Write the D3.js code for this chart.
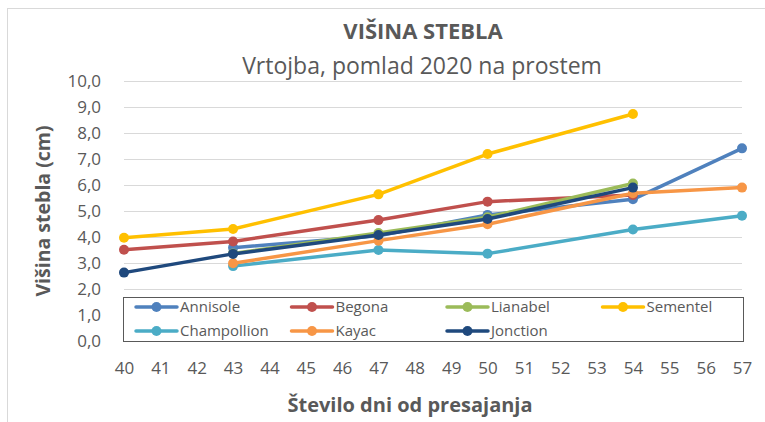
<!DOCTYPE html>
<html>
<head>
<meta charset="utf-8">
<script src="https://cdn.jsdelivr.net/npm/d3@7"></script>
<style>
  body { margin: 0; background: #fff; }
  text { font-family: "Open Sans", "Noto Sans", sans-serif; fill: #595959; }
</style>
</head>
<body>
<div id="chart"></div>
<script>
// days after transplanting
const days = [40, 43, 47, 50, 54, 57];

// stem height (cm), null = not measured
const annisole    = [null, 3.59, 4.05, 4.85, 5.45, 7.41];
const begona      = [3.51, 3.83, 4.65, 5.36, 5.62, null];
const lianabel    = [null, 3.37, 4.15, 4.76, 6.06, null];
const sementel    = [3.97, 4.31, 5.64, 7.19, 8.73, null];
const champollion = [null, 2.88, 3.50, 3.36, 4.29, 4.82];
const kayac       = [null, 2.99, 3.86, 4.49, 5.68, 5.90];
const jonction    = [2.63, 3.35, 4.08, 4.69, 5.90, null];

const seriesNames = ['Annisole', 'Begona', 'Lianabel', 'Sementel', 'Champollion', 'Kayac', 'Jonction'];
const seriesValues = [annisole, begona, lianabel, sementel, champollion, kayac, jonction];
const colors = ['#4f81bd', '#c0504d', '#9bbb59', '#ffc000', '#4bacc6', '#f79646', '#1f497d'];

const yTicks = [0, 1, 2, 3, 4, 5, 6, 7, 8, 9, 10];
const xTicks = d3.range(40, 58);

const width = 765, height = 422;
const margin = { top: 81, right: 23, bottom: 81, left: 124 };

const svg = d3.select('#chart').append('svg')
  .attr('width', width)
  .attr('height', height);

// chart frame
svg.append('rect')
  .attr('x', 7.5).attr('y', 8.5)
  .attr('width', width).attr('height', height)
  .attr('fill', 'none')
  .attr('stroke', '#d9d9d9');

const x = d3.scaleLinear().domain([40, 57]).range([margin.left, width - margin.right]);
const y = d3.scaleLinear().domain([0, 10]).range([height - margin.bottom, margin.top]);

// gridlines
svg.append('g')
  .selectAll('line')
  .data(yTicks)
  .join('line')
  .attr('x1', x(40)).attr('x2', x(57))
  .attr('y1', d => Math.round(y(d)) + 0.5)
  .attr('y2', d => Math.round(y(d)) + 0.5)
  .attr('stroke', '#d9d9d9')
  .attr('stroke-width', 1);

// y axis labels
const yAxis = svg.append('g')
  .attr('transform', `translate(${x(40) - 20},0)`)
  .call(d3.axisLeft(y).tickValues(yTicks).tickSize(0).tickFormat(d => d3.format('.1f')(d).replace('.', ',')));
yAxis.select('.domain').remove();
yAxis.selectAll('text').attr('font-size', 17).attr('fill', '#595959').attr('font-family', '"Open Sans", sans-serif');

// x axis labels
const xAxis = svg.append('g')
  .attr('transform', `translate(0,${y(0) + 18})`)
  .call(d3.axisBottom(x).tickValues(xTicks).tickSize(0).tickFormat(d3.format('d')));
xAxis.select('.domain').remove();
xAxis.selectAll('text').attr('font-size', 17).attr('fill', '#595959').attr('font-family', '"Open Sans", sans-serif');

// series
const line = d3.line()
  .defined(d => d.v != null)
  .x(d => x(d.day))
  .y(d => y(d.v));

seriesValues.forEach((vals, i) => {
  const pts = days.map((day, j) => ({ day, v: vals[j] }));
  const g = svg.append('g');
  g.append('path')
    .datum(pts)
    .attr('d', line)
    .attr('fill', 'none')
    .attr('stroke', colors[i])
    .attr('stroke-width', 3.5)
    .attr('stroke-linejoin', 'round')
    .attr('stroke-linecap', 'round');
  g.selectAll('circle')
    .data(pts.filter(d => d.v != null))
    .join('circle')
    .attr('cx', d => x(d.day))
    .attr('cy', d => y(d.v))
    .attr('r', 5)
    .attr('fill', colors[i]);
});

// legend
const legend = svg.append('g');
legend.append('rect')
  .attr('x', 123.5).attr('y', 297.5)
  .attr('width', 620).attr('height', 44)
  .attr('fill', '#fff')
  .attr('stroke', '#595959');

const item = legend.selectAll('g.item')
  .data(seriesNames)
  .join('g')
  .attr('class', 'item')
  .attr('transform', (d, i) => `translate(${136 + (i % 4) * 155.5},${307 + Math.floor(i / 4) * 24})`);
item.append('line')
  .attr('x1', 0).attr('x2', 41)
  .attr('stroke', (d, i) => colors[i])
  .attr('stroke-width', 3.5)
  .attr('stroke-linecap', 'round');
item.append('circle')
  .attr('cx', 20.5).attr('r', 5)
  .attr('fill', (d, i) => colors[i]);
item.append('text')
  .attr('x', 44)
  .attr('dy', '0.35em')
  .attr('font-size', 15)
  .text(d => d);

// titles
svg.append('text')
  .attr('x', 423).attr('y', 39)
  .attr('text-anchor', 'middle')
  .attr('font-size', 22)
  .attr('font-weight', 'bold')
  .text('VIŠINA STEBLA');
svg.append('text')
  .attr('x', 422).attr('y', 74)
  .attr('text-anchor', 'middle')
  .attr('font-size', 23)
  .text('Vrtojba, pomlad 2020 na prostem');

svg.append('text')
  .attr('transform', `translate(50,${(y(0) + y(10)) / 2}) rotate(-90)`)
  .attr('text-anchor', 'middle')
  .attr('font-size', 19.5)
  .attr('font-weight', 'bold')
  .text('Višina stebla (cm)');
svg.append('text')
  .attr('x', 410).attr('y', 412)
  .attr('text-anchor', 'middle')
  .attr('font-size', 20)
  .attr('font-weight', 'bold')
  .text('Število dni od presajanja');
</script>
</body>
</html>
